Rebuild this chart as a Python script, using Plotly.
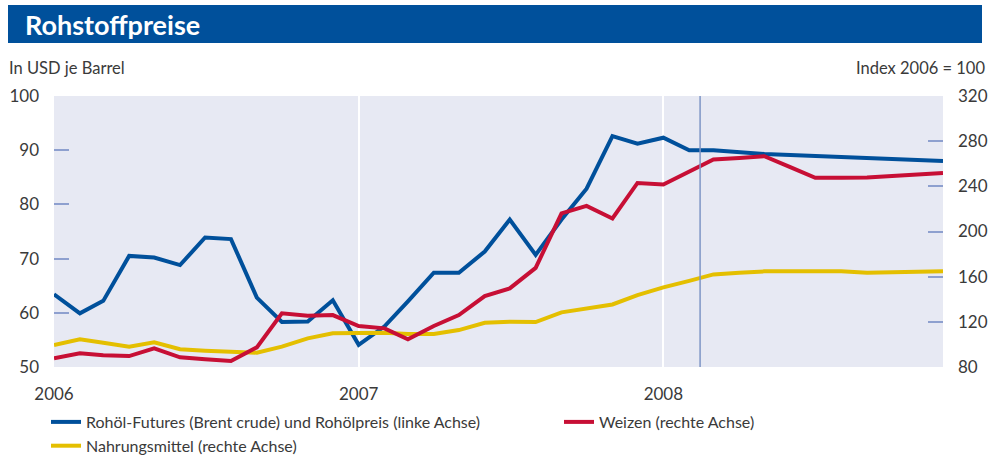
import plotly.graph_objects as go
import pandas as pd

# ---- data ----
months = pd.date_range("2006-01-01", "2008-12-01", freq="MS")

oil = [63.4, 59.9, 62.2, 70.5, 70.2, 68.8, 73.9, 73.6, 62.8, 58.3, 58.4, 62.3,
       54.1, 57.5, 62.1, 67.4, 67.4, 71.3, 77.2, 70.7, 77.2, 82.9, 92.6, 91.2,
       92.3, 90.0, 90.0, 89.6, 89.3, 89.1, 88.9, 88.8, 88.6, 88.4, 88.2, 88.0]

wheat = [87.7, 92.1, 90.4, 89.7, 96.5, 88.6, 86.8, 85.3, 97.4, 127.5, 125.4, 126.0,
         116.3, 114.2, 104.5, 116.3, 126.0, 142.8, 149.6, 167.8, 216.0, 222.7, 211.5, 243.0,
         241.6, 252.6, 263.7, 265.2, 266.7, 257.0, 247.5, 247.6, 247.8, 249.2, 250.5, 251.9]

food = [99.5, 104.5, 101.5, 98.0, 101.9, 95.7, 94.4, 93.5, 92.7, 98.0, 105.4, 109.8,
        109.8, 110.4, 109.2, 109.2, 112.7, 119.2, 120.1, 119.8, 128.4, 131.9, 135.4, 143.7,
        150.5, 156.3, 162.0, 163.4, 164.7, 164.7, 164.7, 164.7, 163.4, 164.0, 164.5, 164.9]

futures_start = "2008-02-14"

left_ticks = [50, 60, 70, 80, 90, 100]
right_ticks = [80, 120, 160, 200, 240, 280, 320]
year_ticks = ["2006-01-01", "2007-01-01", "2008-01-01"]
year_labels = ["2006", "2007", "2008"]

names = ["Rohöl-Futures (Brent crude) und Rohölpreis (linke Achse)",
         "Weizen (rechte Achse)",
         "Nahrungsmittel (rechte Achse)"]

BLUE = "#00509b"
RED = "#c70f35"
YELLOW = "#e4bf00"
TICKC = "#8ea0cf"
TXT = "#3a3a3a"
FONT = "Lato"

fig = go.Figure()
fig.add_trace(go.Scatter(x=months, y=oil, name=names[0], mode="lines",
                         line=dict(color=BLUE, width=4), legend="legend"))
fig.add_trace(go.Scatter(x=months, y=food, name=names[2], mode="lines",
                         line=dict(color=YELLOW, width=4), yaxis="y2", legend="legend"))
fig.add_trace(go.Scatter(x=months, y=wheat, name=names[1], mode="lines",
                         line=dict(color=RED, width=4), yaxis="y2", legend="legend2"))

L, R, T, B = 54, 52, 96, 92
W, H = 995, 459
pw = W - L - R
ph = H - T - B

def px(x):
    return (x - L) / pw

def py(y):
    return (H - B - y) / ph

fig.update_layout(
    width=W, height=H,
    margin=dict(l=L, r=R, t=T, b=B, autoexpand=False),
    paper_bgcolor="white",
    plot_bgcolor="#e7e9f3",
    font=dict(family=FONT, color=TXT, size=16),
    xaxis=dict(range=[months[0], months[-1]], tickvals=year_ticks, ticktext=year_labels,
               showgrid=True, gridcolor="white", gridwidth=2, ticks="", zeroline=False,
               showline=False, tickfont=dict(size=17), ticklabelstandoff=15,
               automargin=False),
    yaxis=dict(range=[50, 100], tickvals=left_ticks, showgrid=False, zeroline=False,
               ticks="inside", ticklen=15, tickcolor=TICKC, tickwidth=1.5,
               tickfont=dict(size=17), ticklabelstandoff=14, showline=False,
               automargin=False),
    yaxis2=dict(range=[80, 320], tickvals=right_ticks, overlaying="y", side="right",
                showgrid=False, zeroline=False, ticks="inside", ticklen=15,
                tickcolor=TICKC, tickwidth=1.5, tickfont=dict(size=17),
                ticklabelstandoff=14, showline=False, automargin=False),
    legend=dict(x=px(46), y=py(405), xanchor="left", yanchor="top",
                orientation="v", font=dict(size=16, color=TXT), bgcolor="rgba(0,0,0,0)",
                tracegroupgap=0, itemwidth=30),
    legend2=dict(x=px(559), y=py(405), xanchor="left", yanchor="top",
                 orientation="v", font=dict(size=16, color=TXT), bgcolor="rgba(0,0,0,0)",
                 itemwidth=30),
    showlegend=True,
)

# vertical marker line
fig.add_shape(type="line", xref="x", yref="paper", x0=futures_start, x1=futures_start,
              y0=0, y1=1, line=dict(color="#7f95c6", width=1.5))

# title bar
fig.add_shape(type="rect", xref="paper", yref="paper",
              x0=px(8), x1=px(982), y0=py(43), y1=py(5),
              fillcolor=BLUE, line=dict(width=0), layer="above")
fig.add_annotation(xref="paper", yref="paper", x=px(23), y=py(24), xanchor="left",
                   yanchor="middle", text="<b>Rohstoffpreise</b>", showarrow=False,
                   font=dict(family=FONT, size=27, color="white"))

fig.add_annotation(xref="paper", yref="paper", x=px(7), y=py(68), xanchor="left",
                   yanchor="middle", text="In USD je Barrel", showarrow=False,
                   font=dict(size=16.5, color=TXT))
fig.add_annotation(xref="paper", yref="paper", x=px(987), y=py(68), xanchor="right",
                   yanchor="middle", text="Index 2006 = 100", showarrow=False,
                   font=dict(size=16.5, color=TXT))

fig.write_html("out.html", config={"displayModeBar": False},
               post_script="document.body.style.margin='0';document.body.style.overflow='hidden';")
